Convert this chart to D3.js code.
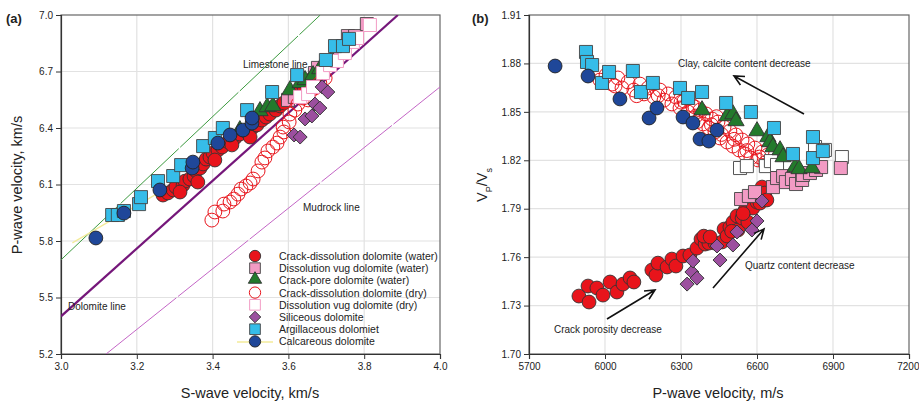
<!DOCTYPE html>
<html>
<head>
<meta charset="utf-8">
<script src="https://cdn.jsdelivr.net/npm/d3@7"></script>
<style>
  body { margin: 0; background: #fff; }
  text { font-family: "Liberation Sans", Arial, sans-serif; fill: #222; }
</style>
</head>
<body>
<svg id="svg"></svg>
<script>
const W = 919, H = 401;

// ---- panel (a): [Vs km/s, Vp km/s]
const aCrackWater = [[3.269,6.044],[3.282,6.055],[3.296,6.071],[3.303,6.087],[3.322,6.097],[3.327,6.118],[3.340,6.129],[3.351,6.145],[3.356,6.172],[3.367,6.187],[3.375,6.209],[3.383,6.235],[3.393,6.246],[3.401,6.267],[3.414,6.283],[3.425,6.299],[3.441,6.326],[3.459,6.347],[3.472,6.368],[3.491,6.379],[3.504,6.400],[3.517,6.416],[3.530,6.442],[3.541,6.458],[3.551,6.474],[3.567,6.495],[3.578,6.517],[3.588,6.533],[3.599,6.554],[3.609,6.570],[3.620,6.586],[3.631,6.602],[3.641,6.618],[3.652,6.644],[3.662,6.660],[3.673,6.676],[3.314,6.060],[3.361,6.113],[3.406,6.230],[3.451,6.310],[3.499,6.352]];
const aVugWater = [[3.599,6.549],[3.617,6.565],[3.662,6.639],[3.670,6.692],[3.678,6.719],[3.702,6.745],[3.728,6.777],[3.757,6.888],[3.776,6.888],[3.807,6.952]];
const aPoreWater = [[3.472,6.384],[3.525,6.485],[3.544,6.506],[3.559,6.511],[3.604,6.596],[3.631,6.634],[3.644,6.650],[3.665,6.676],[3.683,6.708],[3.718,6.745]];
const aCrackDry = [[3.398,5.911],[3.406,5.954],[3.427,5.959],[3.430,5.996],[3.446,6.007],[3.456,6.023],[3.467,6.049],[3.475,6.076],[3.488,6.092],[3.499,6.108],[3.507,6.129],[3.520,6.172],[3.530,6.219],[3.538,6.241],[3.546,6.278],[3.559,6.299],[3.570,6.320],[3.578,6.352],[3.588,6.379],[3.586,6.405],[3.602,6.432],[3.604,6.474],[3.617,6.495],[3.625,6.527],[3.639,6.559],[3.652,6.549],[3.657,6.591],[3.670,6.612],[3.683,6.639],[3.697,6.665]];
const aVugDry = [[3.631,6.565],[3.652,6.580],[3.665,6.618],[3.691,6.692],[3.710,6.734],[3.728,6.756],[3.749,6.798],[3.770,6.857],[3.781,6.878],[3.815,6.947]];
const aSiliceous = [[3.689,6.618],[3.704,6.591],[3.670,6.527],[3.683,6.506],[3.644,6.448],[3.662,6.464],[3.615,6.363],[3.631,6.352]];
const aArgillaceous = [[3.135,5.938],[3.150,5.938],[3.166,5.959],[3.206,5.996],[3.211,6.033],[3.256,6.118],[3.296,6.145],[3.317,6.203],[3.375,6.304],[3.406,6.347],[3.427,6.400],[3.491,6.495],[3.557,6.591],[3.623,6.681],[3.699,6.761],[3.723,6.835],[3.744,6.835],[3.760,6.873]];
const aCalcareous = [[3.092,5.816],[3.166,5.948],[3.261,6.071],[3.346,6.187],[3.348,6.219],[3.414,6.320],[3.446,6.363],[3.480,6.389],[3.504,6.426],[3.504,6.453]];
const calcTrend = [[3.03,5.79],[3.27,6.07]];
const limestoneLine = [[3.0,5.7],[3.684,7.0]];
const dolomiteLine = [[3.0,5.4],[3.889,7.0]];
const mudrockLine = [[3.119,5.2],[4.0,6.618]];

// ---- panel (b): [Vp m/s, Vp/Vs]
const bCrackWater = [[5897,1.7359],[5937,1.7322],[5933,1.7421],[5968,1.7409],[5992,1.7365],[6020,1.7446],[6047,1.7384],[6071,1.7433],[6099,1.7471],[6114,1.7446],[6185,1.7520],[6201,1.7489],[6209,1.7563],[6245,1.7539],[6264,1.7588],[6280,1.7545],[6308,1.7607],[6335,1.7613],[6363,1.7656],[6379,1.7712],[6395,1.7681],[6403,1.7718],[6410,1.7687],[6434,1.7687],[6462,1.7694],[6470,1.7774],[6482,1.7731],[6493,1.7786],[6505,1.7817],[6521,1.7855],[6525,1.7768],[6541,1.7842],[6553,1.7892],[6564,1.7817],[6584,1.7904],[6600,1.7941],[6620,1.8034],[6631,1.7997],[6612,1.7935],[6639,1.7954],[6390,1.7730],[6415,1.7725],[6500,1.7760],[6545,1.7870]];
const bVugWater = [[6537,1.7960],[6568,1.7979],[6592,1.8003],[6663,1.8034],[6679,1.8090],[6703,1.8102],[6714,1.8065],[6738,1.8084],[6754,1.8053],[6778,1.8078],[6781,1.8109],[6809,1.8121],[6833,1.8140],[6853,1.8158],[6931,1.8152]];
const bPoreWater = [[6383,1.8505],[6482,1.8468],[6505,1.8480],[6517,1.8437],[6600,1.8375],[6643,1.8338],[6651,1.8307],[6663,1.8276],[6691,1.8257],[6703,1.8214],[6750,1.8152],[6766,1.8140],[6817,1.8146]];
const bCrackDry = [[5980,1.8697],[6004,1.8728],[6028,1.8672],[6051,1.8710],[6067,1.8648],[6091,1.8685],[6114,1.8635],[6138,1.8672],[6154,1.8611],[6170,1.8648],[6193,1.8592],[6217,1.8635],[6233,1.8573],[6249,1.8611],[6264,1.8549],[6280,1.8592],[6296,1.8524],[6312,1.8567],[6328,1.8499],[6343,1.8542],[6359,1.8474],[6375,1.8511],[6387,1.8425],[6399,1.8487],[6410,1.8400],[6422,1.8456],[6434,1.8375],[6446,1.8437],[6454,1.8338],[6470,1.8406],[6482,1.8313],[6493,1.8381],[6505,1.8288],[6517,1.8357],[6529,1.8264],[6541,1.8326],[6553,1.8239],[6564,1.8301],[6576,1.8214],[6592,1.8276],[6604,1.8202],[6620,1.8251],[6631,1.8183],[6643,1.8233],[6659,1.8171],[6040,1.8660],[6125,1.8600],[6210,1.8600],[6300,1.8560],[6365,1.8440],[6420,1.8420],[6460,1.8360],[6510,1.8330],[6560,1.8260],[6610,1.8220],[6355,1.8530],[6440,1.8470]];
const bVugDry = [[6533,1.8152],[6560,1.8164],[6635,1.8164],[6655,1.8195],[6679,1.8171],[6829,1.8282],[6868,1.8264],[6935,1.8220]];
const bSiliceous = [[6324,1.7433],[6343,1.7508],[6347,1.7576],[6363,1.7470],[6442,1.7669],[6454,1.7582],[6505,1.7675],[6521,1.7756],[6580,1.7768],[6600,1.7824],[6620,1.7948]];
const bArgillaceous = [[5925,1.8871],[5929,1.8809],[5949,1.8790],[5988,1.8679],[6016,1.8747],[6110,1.8753],[6142,1.8623],[6189,1.8679],[6296,1.8648],[6328,1.8586],[6383,1.8623],[6478,1.8555],[6576,1.8499],[6667,1.8400],[6742,1.8239],[6821,1.8344],[6821,1.8214],[6860,1.8257]];
const bCalcareous = [[5803,1.8784],[5933,1.8722],[6059,1.8580],[6174,1.8462],[6205,1.8524],[6308,1.8468],[6347,1.8431],[6375,1.8332],[6410,1.8319],[6442,1.8387]];

const aXTicks = [3.0, 3.2, 3.4, 3.6, 3.8, 4.0];
const aYTicks = [5.2, 5.5, 5.8, 6.1, 6.4, 6.7, 7.0];
const bXTicks = [5700, 6000, 6300, 6600, 6900, 7200];
const bYTicks = [1.70, 1.73, 1.76, 1.79, 1.82, 1.85, 1.88, 1.91];

const legendNames = ["Crack-dissolution dolomite (water)", "Dissolution vug dolomite (water)",
  "Crack-pore dolomite (water)", "Crack-dissolution dolomite (dry)", "Dissolution vug dolomite (dry)",
  "Siliceous dolomite", "Argillaceous dolomiet", "Calcareous dolomite"];

const RED = "#e8141b", PINK = "#f29bc4", GREEN = "#237a2c", BLUE = "#1f4799",
      CYAN = "#36bde9", PURPLE = "#9c4f9f";

const styles = {
  crackWater: {shape: "circle", fill: RED, stroke: "#333"},
  vugWater: {shape: "square", fill: PINK, stroke: "#444"},
  poreWater: {shape: "triangle", fill: GREEN, stroke: "#333"},
  crackDry: {shape: "circle", fill: "none", stroke: RED},
  vugDryA: {shape: "square", fill: "#fff", stroke: PINK},
  vugDryB: {shape: "square", fill: "#fff", stroke: "#555"},
  siliceous: {shape: "diamond", fill: PURPLE, stroke: "#333"},
  argillaceous: {shape: "square", fill: CYAN, stroke: "#444"},
  calcareous: {shape: "circle", fill: BLUE, stroke: "#222"}
};

const svg = d3.select("#svg").attr("width", W).attr("height", H);

function marker(g, st, x, y, k) {
  k = k || 1;
  let sym;
  if (st.shape === "circle") sym = d3.symbol(d3.symbolCircle, 150 * k * k);
  else if (st.shape === "square") sym = d3.symbol(d3.symbolSquare, 170 * k * k);
  else if (st.shape === "triangle") sym = d3.symbol(d3.symbolTriangle, 115 * k * k);
  else sym = d3.symbol(d3.symbolSquare, 98 * k * k);
  const rot = st.shape === "diamond" ? " rotate(45)" : "";
  const dy = st.shape === "triangle" ? -1 : 0;
  return g.append("path").attr("d", sym())
    .attr("transform", `translate(${x},${y + dy})${rot}`)
    .attr("fill", st.fill).attr("stroke", st.stroke)
    .attr("stroke-width", st.fill === "none" || st.fill === "#fff" ? 1 : 0.9);
}

function panel(opt) {
  const x = d3.scaleLinear().domain(opt.xd).range([opt.x0, opt.x1]);
  const y = d3.scaleLinear().domain(opt.yd).range([354, 15]);
  const g = svg.append("g");
  const clipId = "clip" + opt.id;
  svg.append("clipPath").attr("id", clipId).append("rect")
    .attr("x", opt.x0).attr("y", 15).attr("width", opt.x1 - opt.x0).attr("height", 339);

  // grid
  g.append("g").selectAll("line").data(opt.xt.slice(1, -1)).join("line")
    .attr("x1", d => x(d)).attr("x2", d => x(d)).attr("y1", 15).attr("y2", 354)
    .attr("stroke", "#e2e2e2").attr("stroke-width", 1.2);
  g.append("g").selectAll("line").data(opt.yt.slice(1, -1)).join("line")
    .attr("y1", d => y(d)).attr("y2", d => y(d)).attr("x1", opt.x0).attr("x2", opt.x1)
    .attr("stroke", "#e2e2e2").attr("stroke-width", 1.2);

  // frame
  g.append("rect").attr("x", opt.x0).attr("y", 15).attr("width", opt.x1 - opt.x0).attr("height", 339)
    .attr("fill", "none").attr("stroke", "#666").attr("stroke-width", 1.2);

  const ax = g.append("g").attr("transform", "translate(0,354)")
    .call(d3.axisBottom(x).tickValues(opt.xt).tickFormat(opt.xf).tickSize(5).tickPadding(4));
  const ay = g.append("g").attr("transform", `translate(${opt.x0},0)`)
    .call(d3.axisLeft(y).tickValues(opt.yt).tickFormat(opt.yf).tickSize(5).tickPadding(3));
  [ax, ay].forEach(a => {
    a.select(".domain").attr("stroke", "#333").attr("stroke-width", 1.2);
    a.selectAll(".tick line").attr("stroke", "#333");
    a.selectAll(".tick text").attr("font-size", 10).attr("fill", "#333")
      .attr("font-family", "Liberation Sans, Arial, sans-serif");
  });
  // keep the last x label inside the window
  ax.selectAll(".tick text").filter((d, i, n) => i === n.length - 1 && x(d) > W - 15)
    .attr("text-anchor", "end").attr("dx", 10);

  const plot = svg.append("g").attr("clip-path", `url(#${clipId})`);
  return {x, y, g, plot};
}

function drawSeries(p, data, st) {
  const gg = p.plot.append("g");
  data.forEach(d => marker(gg, st, p.x(d[0]), p.y(d[1])));
}

function drawLine(p, pts, color, w, dash) {
  const line = d3.line().x(d => p.x(d[0])).y(d => p.y(d[1]));
  const path = p.plot.append("path").attr("d", line(pts))
    .attr("fill", "none").attr("stroke", color).attr("stroke-width", w);
  if (dash) path.attr("stroke-dasharray", dash);
}

function arrow(x1, y1, x2, y2) {
  const a = Math.atan2(y2 - y1, x2 - x1), L = 11, s = 0.45;
  svg.append("path")
    .attr("d", `M${x1},${y1}L${x2},${y2}M${x2 - L * Math.cos(a - s)},${y2 - L * Math.sin(a - s)}L${x2},${y2}L${x2 - L * Math.cos(a + s)},${y2 - L * Math.sin(a + s)}`)
    .attr("fill", "none").attr("stroke", "#111").attr("stroke-width", 1.6);
}

// ---------- panel (a)
const pa = panel({id: "a", xd: [3.0, 4.0], yd: [5.2, 7.0], x0: 61, x1: 440,
  xt: aXTicks, yt: aYTicks, xf: d3.format(".1f"), yf: d3.format(".1f")});

drawLine(pa, limestoneLine, "#3c9a3f", 1, "80,2");
drawLine(pa, mudrockLine, "#c466c6", 1, "90,2");
drawLine(pa, dolomiteLine, "#75177a", 2.2);
drawLine(pa, calcTrend, "#f3eb9a", 1.3);

drawSeries(pa, aCrackWater, styles.crackWater);
drawSeries(pa, aVugWater, styles.vugWater);
drawSeries(pa, aPoreWater, styles.poreWater);
drawSeries(pa, aCrackDry, styles.crackDry);
drawSeries(pa, aVugDry, styles.vugDryA);
drawSeries(pa, aSiliceous, styles.siliceous);
drawSeries(pa, aArgillaceous, styles.argillaceous);
drawSeries(pa, aCalcareous, styles.calcareous);

svg.append("text").attr("x", 243).attr("y", 68).attr("font-size", 10).text("Limestone line");
svg.append("text").attr("x", 303).attr("y", 211).attr("font-size", 10).text("Mudrock line");
svg.append("text").attr("x", 68).attr("y", 310).attr("font-size", 10).text("Dolomite line");

// legend
const legSt = [styles.crackWater, styles.vugWater, styles.poreWater, styles.crackDry,
  styles.vugDryA, styles.siliceous, styles.argillaceous, styles.calcareous];
const leg = svg.append("g");
leg.append("line").attr("x1", 237).attr("x2", 273).attr("y1", 342).attr("y2", 342)
  .attr("stroke", "#f3eb9a").attr("stroke-width", 1.3);
legendNames.forEach((n, i) => {
  const yy = 256 + i * 12.2;
  marker(leg, legSt[i], 255, yy, 0.82);
  leg.append("text").attr("x", 279).attr("y", yy + 4).attr("font-size", 10.5).attr("fill", "#333").text(n);
});

svg.append("text").attr("x", 250).attr("y", 398).attr("text-anchor", "middle")
  .attr("font-size", 14.5).text("S-wave velocity, km/s");
svg.append("text").attr("transform", "translate(22,185) rotate(-90)").attr("text-anchor", "middle")
  .attr("font-size", 14.5).text("P-wave velocity, km/s");
svg.append("text").attr("x", 6).attr("y", 23).attr("font-size", 13).attr("font-weight", "bold").text("(a)");

// ---------- panel (b)
const pb = panel({id: "b", xd: [5700, 7200], yd: [1.70, 1.91], x0: 529, x1: 909,
  xt: bXTicks, yt: bYTicks, xf: d3.format("d"), yf: d3.format(".2f")});

drawSeries(pb, bCrackDry, styles.crackDry);
drawSeries(pb, bVugDry, styles.vugDryB);
drawSeries(pb, bCrackWater, styles.crackWater);
drawSeries(pb, bVugWater, styles.vugWater);
drawSeries(pb, bSiliceous, styles.siliceous);
drawSeries(pb, bPoreWater, styles.poreWater);
drawSeries(pb, bArgillaceous, styles.argillaceous);
drawSeries(pb, bCalcareous, styles.calcareous);

svg.append("text").attr("x", 678).attr("y", 67).attr("font-size", 10).text("Clay, calcite content decrease");
arrow(804, 114, 734, 76);
svg.append("text").attr("x", 745).attr("y", 269).attr("font-size", 10).text("Quartz content decrease");
arrow(713, 288, 764, 229);
svg.append("text").attr("x", 554).attr("y", 333).attr("font-size", 10).text("Crack porosity decrease");
arrow(607, 319, 655, 290);

svg.append("text").attr("x", 718).attr("y", 398).attr("text-anchor", "middle")
  .attr("font-size", 14.5).text("P-wave velocity, m/s");
const yl = svg.append("text").attr("transform", "translate(487,185) rotate(-90)")
  .attr("text-anchor", "middle").attr("font-size", 14.5);
yl.append("tspan").text("V");
yl.append("tspan").attr("font-size", 9).attr("baseline-shift", "sub").text("P");
yl.append("tspan").text("/V");
yl.append("tspan").attr("font-size", 9).attr("baseline-shift", "sub").text("s");
svg.append("text").attr("x", 472).attr("y", 23).attr("font-size", 13).attr("font-weight", "bold").text("(b)");
</script>
</body>
</html>
